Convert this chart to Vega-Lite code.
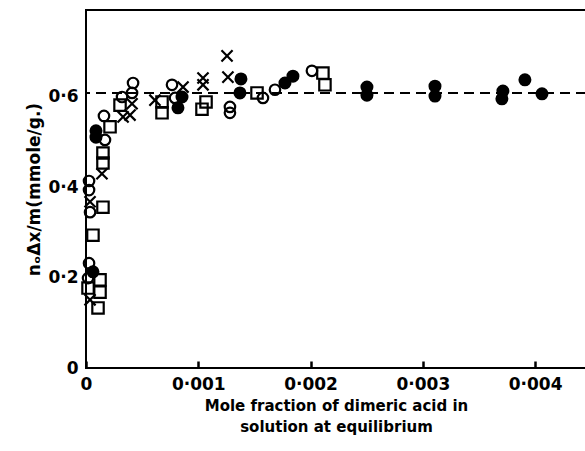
{
  "$schema": "https://vega.github.io/schema/vega-lite/v6.json",
  "width": 500,
  "height": 358,
  "autosize": {"type": "none"},
  "padding": {"left": 86, "top": 10, "right": 0, "bottom": 83},
  "background": "white",
  "config": {
    "view": {"stroke": "black", "strokeWidth": 2},
    "axis": {
      "labelFont": "DejaVu Sans",
      "titleFont": "DejaVu Sans",
      "labelFontWeight": "bold",
      "titleFontWeight": "bold",
      "labelColor": "black",
      "titleColor": "black",
      "domain": false,
      "grid": false
    }
  },
  "layer": [
    {
      "data": {"values": [{"y": 0.609}]},
      "mark": {"type": "rule", "strokeDash": [10, 6], "strokeWidth": 2, "color": "black"},
      "encoding": {
        "y": {
          "field": "y",
          "type": "quantitative",
          "scale": {"domain": [0, 0.7926], "nice": false},
          "axis": {
            "values": [0, 0.2, 0.4, 0.6],
            "labelExpr": "datum.value == 0 ? '0' : replace(format(datum.value, '.1f'), '.', '·')",
            "labelFontSize": 17,
            "ticks": false,
            "labelPadding": 8,
            "labelFlush": false,
            "title": "nₒΔx/m(mmole/g.)",
            "titleFontSize": 17,
            "titlePadding": 4
          }
        }
      }
    },
    {
      "data": {
        "values": [
          {"series": "open", "x": 0.000160, "y": 0.558},
          {"series": "open", "x": 0.000169, "y": 0.505},
          {"series": "open", "x": 0.000027, "y": 0.414},
          {"series": "open", "x": 0.000027, "y": 0.394},
          {"series": "open", "x": 0.000036, "y": 0.345},
          {"series": "open", "x": 0.000027, "y": 0.232},
          {"series": "open", "x": 0.000018, "y": 0.199},
          {"series": "open", "x": 0.000419, "y": 0.631},
          {"series": "open", "x": 0.000410, "y": 0.609},
          {"series": "open", "x": 0.000321, "y": 0.600},
          {"series": "open", "x": 0.000766, "y": 0.627},
          {"series": "open", "x": 0.000793, "y": 0.598},
          {"series": "open", "x": 0.001282, "y": 0.578},
          {"series": "open", "x": 0.001282, "y": 0.565},
          {"series": "open", "x": 0.001576, "y": 0.598},
          {"series": "open", "x": 0.001683, "y": 0.616},
          {"series": "open", "x": 0.002012, "y": 0.658},
          {"series": "filled", "x": 0.000089, "y": 0.525},
          {"series": "filled", "x": 0.000089, "y": 0.511},
          {"series": "filled", "x": 0.000062, "y": 0.213},
          {"series": "filled", "x": 0.000855, "y": 0.600},
          {"series": "filled", "x": 0.000819, "y": 0.576},
          {"series": "filled", "x": 0.001380, "y": 0.640},
          {"series": "filled", "x": 0.001371, "y": 0.609},
          {"series": "filled", "x": 0.001772, "y": 0.631},
          {"series": "filled", "x": 0.001843, "y": 0.646},
          {"series": "filled", "x": 0.002502, "y": 0.622},
          {"series": "filled", "x": 0.002502, "y": 0.604},
          {"series": "filled", "x": 0.003108, "y": 0.624},
          {"series": "filled", "x": 0.003108, "y": 0.602},
          {"series": "filled", "x": 0.003713, "y": 0.613},
          {"series": "filled", "x": 0.003704, "y": 0.596},
          {"series": "filled", "x": 0.003909, "y": 0.638},
          {"series": "filled", "x": 0.004061, "y": 0.607},
          {"series": "cross", "x": 0.000142, "y": 0.430},
          {"series": "cross", "x": 0.000036, "y": 0.368},
          {"series": "cross", "x": 0.000036, "y": 0.151},
          {"series": "cross", "x": 0.000410, "y": 0.585},
          {"series": "cross", "x": 0.000330, "y": 0.556},
          {"series": "cross", "x": 0.000392, "y": 0.560},
          {"series": "cross", "x": 0.000614, "y": 0.593},
          {"series": "cross", "x": 0.000864, "y": 0.622},
          {"series": "cross", "x": 0.001042, "y": 0.642},
          {"series": "cross", "x": 0.001042, "y": 0.627},
          {"series": "cross", "x": 0.001256, "y": 0.691},
          {"series": "cross", "x": 0.001264, "y": 0.644},
          {"series": "square", "x": 0.000214, "y": 0.534},
          {"series": "square", "x": 0.000151, "y": 0.476},
          {"series": "square", "x": 0.000151, "y": 0.454},
          {"series": "square", "x": 0.000151, "y": 0.356},
          {"series": "square", "x": 0.000062, "y": 0.294},
          {"series": "square", "x": 0.000125, "y": 0.195},
          {"series": "square", "x": 0.000018, "y": 0.177},
          {"series": "square", "x": 0.000125, "y": 0.168},
          {"series": "square", "x": 0.000107, "y": 0.133},
          {"series": "square", "x": 0.000303, "y": 0.582},
          {"series": "square", "x": 0.000677, "y": 0.589},
          {"series": "square", "x": 0.000677, "y": 0.565},
          {"series": "square", "x": 0.001069, "y": 0.589},
          {"series": "square", "x": 0.001033, "y": 0.573},
          {"series": "square", "x": 0.001523, "y": 0.609},
          {"series": "square", "x": 0.002110, "y": 0.653},
          {"series": "square", "x": 0.002128, "y": 0.627}
        ]
      },
      "mark": {"type": "point", "filled": true, "stroke": "black", "strokeWidth": 2.2, "opacity": 1},
      "encoding": {
        "x": {
          "field": "x",
          "type": "quantitative",
          "scale": {"domain": [0, 0.004453], "nice": false, "zero": false},
          "axis": {
            "values": [0, 0.001, 0.002, 0.003, 0.004],
            "labelExpr": "datum.value == 0 ? '0' : replace(format(datum.value, '.3f'), '.', '·')",
            "labelFontSize": 17,
            "ticks": true,
            "tickSize": -7,
            "tickWidth": 2.5,
            "tickColor": "black",
            "zindex": 1,
            "labelPadding": 15,
            "labelFlush": false,
            "title": ["Mole fraction of dimeric acid in", "solution at equilibrium"],
            "titleFontSize": 15,
            "titleLineHeight": 21,
            "titlePadding": 6
          }
        },
        "y": {
          "field": "y",
          "type": "quantitative",
          "scale": {"domain": [0, 0.7926], "nice": false},
          "axis": {
            "values": [0, 0.2, 0.4, 0.6],
            "labelExpr": "datum.value == 0 ? '0' : replace(format(datum.value, '.1f'), '.', '·')",
            "labelFontSize": 17,
            "ticks": false,
            "labelPadding": 8,
            "labelFlush": false,
            "title": "nₒΔx/m(mmole/g.)",
            "titleFontSize": 17,
            "titlePadding": 4
          }
        },
        "shape": {
          "field": "series",
          "type": "nominal",
          "scale": {"domain": ["open", "filled", "cross", "square"], "range": ["circle", "circle", "M-1,-1L1,1M-1,1L1,-1", "square"]},
          "legend": null
        },
        "fill": {
          "field": "series",
          "type": "nominal",
          "scale": {"domain": ["open", "filled", "cross", "square"], "range": ["transparent", "black", "transparent", "transparent"]},
          "legend": null
        },
        "size": {
          "field": "series",
          "type": "nominal",
          "scale": {"domain": ["open", "filled", "cross", "square"], "range": [110, 130, 64, 50]},
          "legend": null
        }
      }
    }
  ]
}
